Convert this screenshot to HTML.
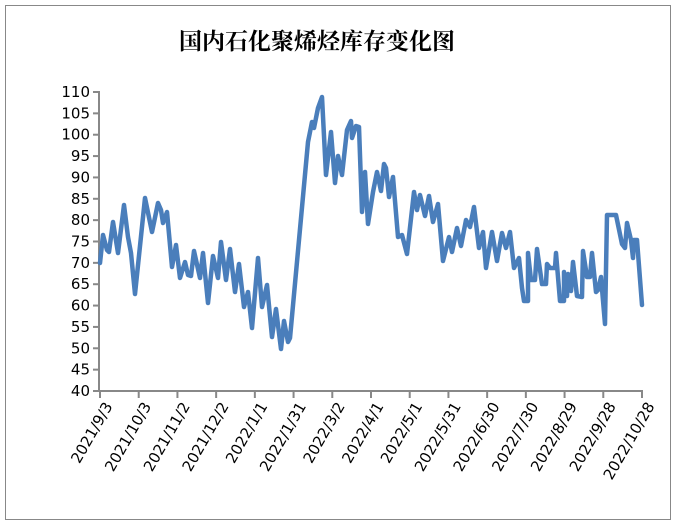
<!DOCTYPE html>
<html><head><meta charset="utf-8"><style>
html,body{margin:0;padding:0;background:#fff;}
</style></head><body>
<svg width="683" height="529" xmlns="http://www.w3.org/2000/svg" style="display:block">
<rect x="5.5" y="5.5" width="665" height="514" fill="#fff" stroke="#888" stroke-width="1"/>
<text x="317" y="49" text-anchor="middle" font-family="'Noto Serif CJK SC','Noto Sans CJK SC',serif" font-weight="bold" font-size="23" fill="#000">国内石化聚烯烃库存变化图</text>
<g stroke="#888" stroke-width="2">
<line x1="99" y1="91" x2="99" y2="392"/>
<line x1="98" y1="391" x2="643" y2="391"/>
</g>
<g id="yt" font-family="'DejaVu Sans',sans-serif" font-size="15" fill="#000" text-anchor="end"></g>
<g id="xt" font-family="'DejaVu Sans',sans-serif" font-size="15" fill="#000"></g>
<g id="tk" stroke="#888" stroke-width="2"></g>
<polyline fill="none" stroke="#4a7ebb" stroke-width="4.5" stroke-linejoin="round" stroke-linecap="round" points="100,263 103,235 107,250 109,252 113,222 118,253 124,205 128,237 131,253 135,294 145,198 152,232 158,203 161,210 163,223 167,212 172,267 176,245 180,278 185,262 188,275 191,276 194,251 200,278 203,253 208,303 213,256 218,278 221,242 226,280 230,249 235,292 239,264 244,307 248,292 252,328 258,258 262,307 267,285 272,337 276,309 281,349 284,321 288,342 290,338 308,142 312,122 314,128 318,108 322,97 326,175 331,132 335,183 338,156 342,175 347,130 351,121 352,138 356,126 359,127 362,212 365,172 368,224 373,192 377,172 381,191 384,164 386,168 389,197 393,177 398,237 402,235 407,254 414,192 417,210 420,195 425,216 429,196 433,222 438,204 443,261 449,237 452,252 457,228 461,246 466,220 470,227 474,207 479,248 483,232 486,268 492,232 497,261 502,233 506,248 510,232 514,268 519,258 522,288 524,301 528,301 528,253 531,280 535,280 537,249 542,284 546,284 547,264 550,268 555,268 556,253 560,301 564,301 564,272 567,296 568,274 571,291 573,262 577,296 582,297 583,251 587,277 590,277 592,253 596,292 598,290 601,277 605,324 607,215 616,215 622,244 625,248 627,223 631,240 633,258 634,240 637,240 642,305"/>
</svg>
<script>
const ns="http://www.w3.org/2000/svg";
const yt=document.getElementById('yt'),xt=document.getElementById('xt'),tk=document.getElementById('tk');
for(let v=40;v<=110;v+=5){const y=391-(v-40)*(299/70);
 const t=document.createElementNS(ns,'text');t.setAttribute('x',90);t.setAttribute('y',y+5);t.textContent=v;yt.appendChild(t);
 const l=document.createElementNS(ns,'line');l.setAttribute('x1',93);l.setAttribute('x2',99);l.setAttribute('y1',y);l.setAttribute('y2',y);tk.appendChild(l);}
const d=["2021/9/3","2021/10/3","2021/11/2","2021/12/2","2022/1/1","2022/1/31","2022/3/2","2022/4/1","2022/5/1","2022/5/31","2022/6/30","2022/7/30","2022/8/29","2022/9/28","2022/10/28"];
d.forEach((s,i)=>{const x=100+i*(542/14);
 const l=document.createElementNS(ns,'line');l.setAttribute('x1',x);l.setAttribute('x2',x);l.setAttribute('y1',391);l.setAttribute('y2',398);tk.appendChild(l);
 const t=document.createElementNS(ns,'text');t.setAttribute('text-anchor','end');
 t.setAttribute('transform',`translate(${x+13},${406}) rotate(-60)`);t.textContent=s;xt.appendChild(t);});
</script>
</body></html>
